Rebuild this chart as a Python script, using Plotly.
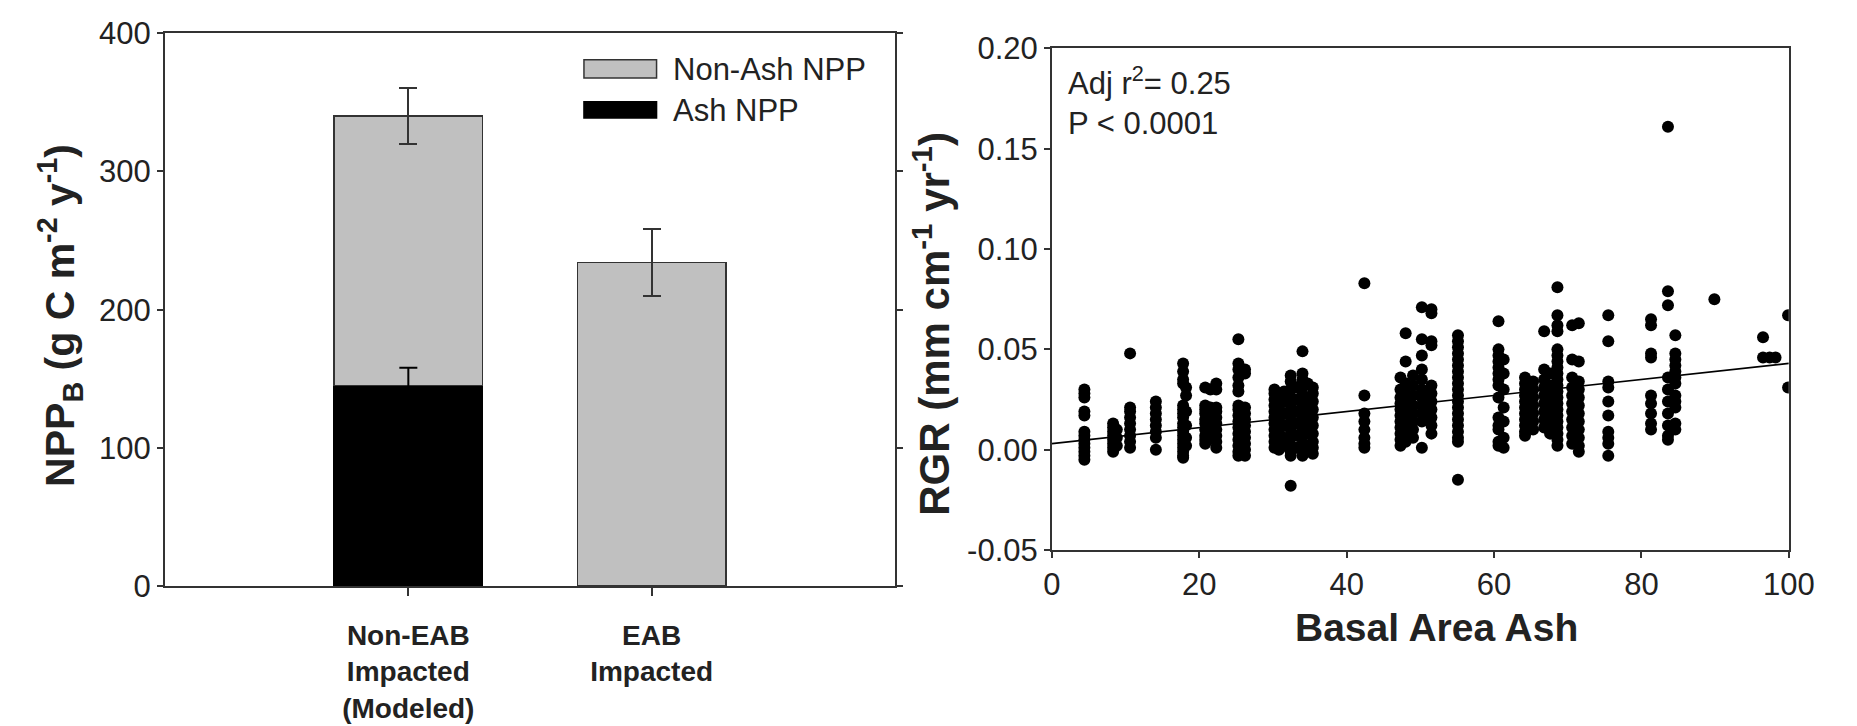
import plotly.graph_objects as go

# ---------------- Left panel data ----------------
categories = ["Non-EAB<br>Impacted<br>(Modeled)", "EAB<br>Impacted"]
ash_npp = [145, None]
ash_npp_err = [13, None]
nonash_npp = [195, 234]
nonash_npp_err = [20, 24]

# ---------------- Right panel data ----------------
column_x = [4.4, 8.3, 8.8, 10.6, 14.1, 17.8, 18.2, 20.8, 21.5, 22.3,
            25.3, 26.2, 30.2, 30.8, 31.5, 32.4, 33.2, 34.0, 34.7, 35.4,
            42.4, 47.3, 48.0, 49.0, 50.2, 51.5, 55.1, 60.6, 61.3, 64.2,
            65.3, 66.8, 67.6, 68.6, 70.6, 71.5, 75.5, 81.3, 83.6, 84.6,
            89.9, 96.5, 97.4, 98.2, 99.9]
column_rgr = [
    [0.030, 0.028, 0.026, 0.019, 0.017, 0.009, 0.007, 0.005, 0.003, 0.001, -0.001, -0.003, -0.005],
    [0.013, 0.011, 0.009, 0.007, 0.005, 0.003, 0.001, -0.001],
    [0.010, 0.006, 0.002],
    [0.048, 0.021, 0.019, 0.016, 0.013, 0.010, 0.007, 0.004, 0.001],
    [0.024, 0.021, 0.018, 0.015, 0.012, 0.009, 0.006, 0.000],
    [0.043, 0.039, 0.035, 0.033, 0.022, 0.020, 0.018, 0.016, 0.013, 0.011, 0.009, 0.007, 0.005, 0.003, 0.001, -0.001, -0.003, -0.004],
    [0.031, 0.027, 0.019, 0.012, 0.006, 0.002],
    [0.031, 0.022, 0.020, 0.018, 0.015, 0.013, 0.010, 0.007, 0.005, 0.003],
    [0.030, 0.021, 0.016, 0.012, 0.009, 0.006],
    [0.033, 0.030, 0.021, 0.019, 0.016, 0.013, 0.010, 0.007, 0.004, 0.001],
    [0.055, 0.043, 0.040, 0.036, 0.032, 0.029, 0.022, 0.020, 0.017, 0.014, 0.011, 0.008, 0.005, 0.002, -0.001, -0.003],
    [0.040, 0.038, 0.021, 0.018, 0.015, 0.012, 0.009, 0.006, 0.003, 0.000, -0.003],
    [0.030, 0.028, 0.025, 0.022, 0.019, 0.016, 0.013, 0.010, 0.007, 0.004, 0.001],
    [0.027, 0.021, 0.015, 0.009, 0.003, 0.000],
    [0.029, 0.024, 0.018, 0.012, 0.006, 0.002],
    [0.037, 0.034, 0.030, 0.026, 0.022, 0.018, 0.014, 0.010, 0.006, 0.002, -0.001, -0.003, -0.018],
    [0.031, 0.025, 0.019, 0.013, 0.007, 0.001],
    [0.049, 0.038, 0.035, 0.031, 0.027, 0.023, 0.019, 0.015, 0.011, 0.007, 0.003, 0.000, -0.003],
    [0.033, 0.026, 0.020, 0.014, 0.008, 0.002],
    [0.031, 0.028, 0.024, 0.020, 0.016, 0.012, 0.008, 0.004, 0.001, -0.002],
    [0.083, 0.027, 0.018, 0.014, 0.010, 0.006, 0.003, 0.001],
    [0.036, 0.030, 0.026, 0.023, 0.020, 0.017, 0.014, 0.011, 0.008, 0.005, 0.002],
    [0.058, 0.044, 0.033, 0.028, 0.024, 0.019, 0.015, 0.011, 0.007, 0.004],
    [0.037, 0.032, 0.027, 0.022, 0.018, 0.014, 0.010, 0.006],
    [0.071, 0.055, 0.047, 0.040, 0.035, 0.030, 0.026, 0.022, 0.018, 0.014, 0.001],
    [0.070, 0.068, 0.054, 0.052, 0.032, 0.028, 0.024, 0.020, 0.016, 0.012, 0.008],
    [0.057, 0.054, 0.051, 0.048, 0.045, 0.042, 0.039, 0.036, 0.033, 0.030, 0.027, 0.024, 0.021, 0.018, 0.015, 0.012, 0.009, 0.006, 0.004, -0.015],
    [0.064, 0.050, 0.047, 0.044, 0.041, 0.038, 0.035, 0.032, 0.026, 0.016, 0.012, 0.010, 0.004, 0.002],
    [0.045, 0.038, 0.030, 0.021, 0.014, 0.006, 0.001],
    [0.036, 0.033, 0.030, 0.027, 0.024, 0.021, 0.018, 0.015, 0.012, 0.009, 0.007],
    [0.034, 0.030, 0.026, 0.022, 0.018, 0.014, 0.010],
    [0.059, 0.040, 0.035, 0.031, 0.027, 0.023, 0.019, 0.015, 0.011],
    [0.038, 0.032, 0.028, 0.024, 0.020, 0.016, 0.012, 0.008],
    [0.081, 0.067, 0.062, 0.059, 0.050, 0.047, 0.044, 0.041, 0.038, 0.035, 0.032, 0.029, 0.026, 0.023, 0.020, 0.017, 0.014, 0.011, 0.008, 0.005, 0.002],
    [0.062, 0.045, 0.036, 0.031, 0.027, 0.023, 0.019, 0.015, 0.011, 0.007, 0.003],
    [0.063, 0.044, 0.034, 0.030, 0.026, 0.022, 0.018, 0.014, 0.010, 0.006, 0.002, -0.001],
    [0.067, 0.054, 0.034, 0.031, 0.024, 0.017, 0.009, 0.006, 0.003, -0.003],
    [0.065, 0.062, 0.048, 0.046, 0.027, 0.023, 0.018, 0.013, 0.010],
    [0.161, 0.079, 0.072, 0.036, 0.030, 0.024, 0.018, 0.012, 0.007, 0.005],
    [0.057, 0.048, 0.045, 0.042, 0.039, 0.036, 0.033, 0.027, 0.024, 0.021, 0.013, 0.010],
    [0.075],
    [0.056, 0.046],
    [0.046],
    [0.046],
    [0.067, 0.031],
]
fit_x = [0, 100]
fit_y = [0.003, 0.043]

rgr_tickvals = [-0.05, 0.0, 0.05, 0.10, 0.15, 0.20]
rgr_ticktext = ["-0.05", "0.00", "0.05", "0.10", "0.15", "0.20"]

basal_area = [x for x, ys in zip(column_x, column_rgr) for _ in ys]
rgr = [y for ys in column_rgr for y in ys]

# ---------------- Figure ----------------
W, H = 1857, 726
def px(v):
    return v / W
def py(v):
    return 1 - v / H

FONT = "Liberation Sans, Arial, sans-serif"
INK = "#222222"
GRAY = "#c0c0c0"
LINE = "#333333"

fig = go.Figure()

fig.add_trace(go.Bar(
    x=categories, y=ash_npp, name="Ash NPP",
    marker=dict(color="black", line=dict(color="black", width=1.5)),
    width=0.61,
    xaxis="x", yaxis="y", showlegend=False,
))
fig.add_trace(go.Bar(
    x=categories, y=nonash_npp, name="Non-Ash NPP",
    marker=dict(color=GRAY, line=dict(color=LINE, width=1.5)),
    width=0.61,
    error_y=dict(type="data", array=nonash_npp_err, color=LINE, thickness=2, width=9),
    xaxis="x", yaxis="y", showlegend=False,
))
# Ash NPP error bar drawn on top of the stacked bars
fig.add_trace(go.Scatter(
    x=categories, y=ash_npp, mode="markers",
    marker=dict(size=1, opacity=0),
    error_y=dict(type="data", array=ash_npp_err, color="black", thickness=2, width=9),
    xaxis="x", yaxis="y", showlegend=False, hoverinfo="skip",
))

fig.add_trace(go.Scatter(
    x=basal_area, y=rgr, mode="markers",
    marker=dict(color="black", size=12, line=dict(width=0)),
    xaxis="x2", yaxis="y2", showlegend=False,
))
fig.add_trace(go.Scatter(
    x=fit_x, y=fit_y, mode="lines",
    line=dict(color="black", width=1.6),
    xaxis="x2", yaxis="y2", showlegend=False,
))

axis_common = dict(showline=True, linecolor=LINE, linewidth=2, showgrid=False,
                   zeroline=False, ticks="outside", tickcolor=LINE, tickwidth=2)
TICK = dict(size=31, family=FONT, color=INK)

fig.update_layout(
    width=W, height=H,
    margin=dict(l=0, r=0, t=0, b=0),
    paper_bgcolor="white", plot_bgcolor="white",
    barmode="stack",
    font=dict(family=FONT, color=INK, size=30),
    xaxis=dict(domain=[px(159), px(903)], anchor="y", type="category",
               range=[-1, 2], mirror=True, ticklen=8, ticklabelstandoff=15,
               tickfont=dict(size=28, weight="bold", family=FONT, color=INK),
               **axis_common),
    yaxis=dict(domain=[py(598), py(17)], anchor="x", range=[0, 400], dtick=100,
               mirror="ticks", ticklen=6, tickfont=TICK,
               **axis_common),
    xaxis2=dict(domain=[px(1063), px(1814)], anchor="y2", range=[0, 100], dtick=20,
                mirror=True, ticklen=6, tickfont=TICK,
                **axis_common),
    yaxis2=dict(domain=[py(560), py(33)], anchor="x2", range=[-0.05, 0.20],
                tickmode="array", tickvals=rgr_tickvals, ticktext=rgr_ticktext,
                mirror=True, ticklen=6, tickfont=TICK,
                **axis_common),
)

annotations = [
    dict(text="<b>NPP<sub>B</sub> (g C m<sup>-2</sup> y<sup>-1</sup>)</b>",
         x=px(52), y=py(314), textangle=-90, font=dict(size=41)),
    dict(text="<b>RGR (mm cm<sup>-1</sup> yr<sup>-1</sup>)</b>",
         x=px(941), y=py(322), textangle=-90, font=dict(size=42)),
    dict(text="<b>Basal Area Ash</b>", x=px(1455), y=py(641), font=dict(size=39)),
    dict(text="Adj r<sup>2</sup>= 0.25<br>P &lt; 0.0001", x=px(1077), y=py(88),
         xanchor="left", align="left", font=dict(size=31)),
    dict(text="Non-Ash NPP", x=px(675), y=py(55), xanchor="left", font=dict(size=31)),
    dict(text="Ash NPP", x=px(675), y=py(98), xanchor="left", font=dict(size=31)),
]
for a in annotations:
    a.setdefault("xref", "paper")
    a.setdefault("yref", "paper")
    a.setdefault("showarrow", False)
    a.setdefault("xanchor", "center")
    a.setdefault("yanchor", "middle")
fig.update_layout(annotations=annotations)

fig.update_layout(shapes=[
    dict(type="rect", xref="paper", yref="paper", x0=px(586), x1=px(660), y0=py(64), y1=py(45),
         fillcolor=GRAY, line=dict(color=LINE, width=1.5)),
    dict(type="rect", xref="paper", yref="paper", x0=px(586), x1=px(660), y0=py(106), y1=py(89),
         fillcolor="black", line=dict(color="black", width=1.5)),
])

fig.write_html("out.html", config={"displayModeBar": False},
               post_script="document.body.style.margin='0';")
